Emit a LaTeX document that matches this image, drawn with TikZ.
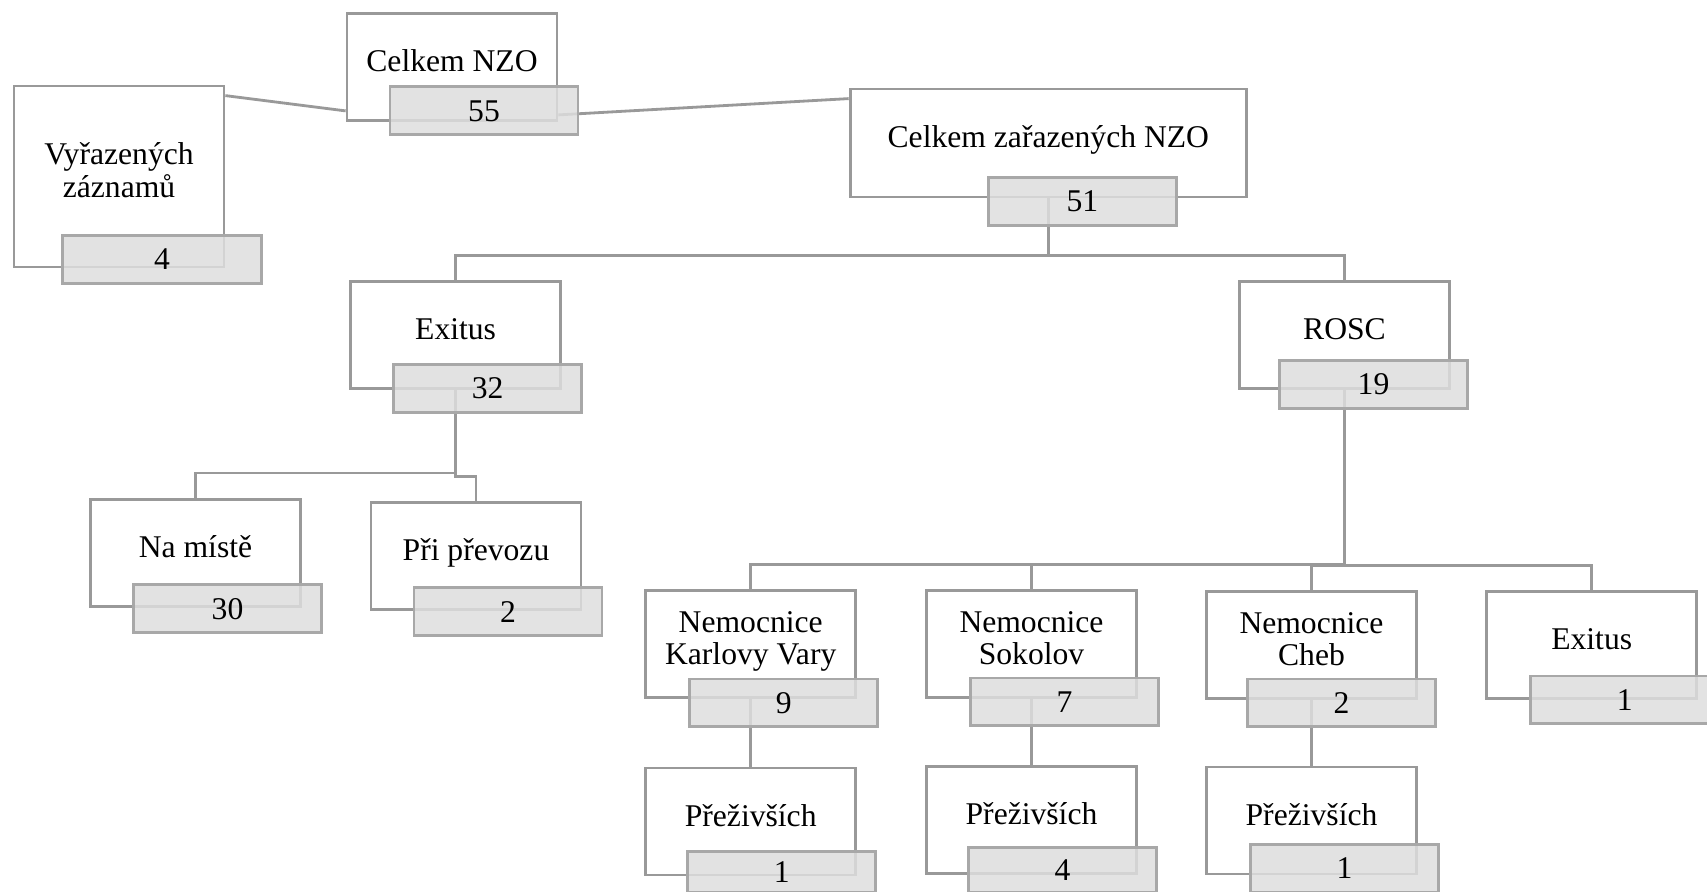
\documentclass[tikz,border=0pt]{standalone}
\usepackage{fontspec}
\setmainfont{Liberation Serif}
\usetikzlibrary{calc}
\definecolor{lineGray}{RGB}{153,153,153}
\definecolor{valueFill}{RGB}{222,222,222}
\definecolor{valueLine}{RGB}{168,168,168}
\pgfdeclarelayer{background}
\pgfsetlayers{background,main}
\newcommand{\boxlabel}[1]{\raisebox{0.04cm}[\height][\depth]{\begin{tabular}{@{}c@{}}#1\end{tabular}}}
\tikzset{
  mainbox/.style={draw=lineGray, line width=1.6pt, fill=white, inner sep=0pt,
    minimum width=4.2cm, minimum height=2.14cm, font=\fontsize{18}{18.6}\selectfont},
  valbox/.style={draw=valueLine, line width=1.6pt, fill=valueFill, fill opacity=0.85,
    text opacity=1, inner sep=0pt, minimum width=3.76cm, minimum height=0.96cm,
    font=\fontsize{18}{18.6}\selectfont},
  link/.style={draw=lineGray, line width=1.6pt}
}

\begin{document}
\begin{tikzpicture}[x=0.02cm, y=-0.02cm]
	\useasboundingbox (0,0) rectangle (1707,892);
	% top
	\node[mainbox] (nzo) at (452,67) {\boxlabel{Celkem NZO}};
	\node[valbox] (nzo-v) at ($(nzo.south)+(32,-11)$) {55};
	\node[mainbox, minimum height=3.62cm] (vyr) at (119,176.5) {\boxlabel{Vyřazených\\záznamů}};
	\node[valbox, minimum width=3.98cm] (vyr-v) at ($(vyr.south)+(43,-9)$) {4};
	\node[mainbox, minimum width=7.93cm, minimum height=2.16cm] (zar) at (1048.3,143) {\boxlabel{Celkem zařazených NZO}};
	\node[valbox] (zar-v) at ($(zar.south)+(34,3)$) {51};
	% second row
	\node[mainbox] (exl) at (455.6,335.3) {\boxlabel{Exitus}};
	\node[valbox] (exl-v) at ($(exl.south)+(32,-2)$) {32};
	\node[mainbox] (rosc) at (1344.5,335.3) {\boxlabel{ROSC}};
	\node[valbox] (rosc-v) at ($(rosc.south)+(29,-6)$) {19};
	% exitus
	\node[mainbox] (nam) at (195.5,552.8) {\boxlabel{Na místě}};
	\node[valbox] (nam-v) at ($(nam.south)+(32,1)$) {30};
	\node[mainbox] (pri) at (476,556) {\boxlabel{Při převozu}};
	\node[valbox] (pri-v) at ($(pri.south)+(32,1)$) {2};
	% rosc
	\node[mainbox] (kv) at (750.7,644) {\boxlabel{Nemocnice\\Karlovy Vary}};
	\node[valbox] (kv-v) at ($(kv.south)+(33,4)$) {9};
	\node[mainbox] (sok) at (1031.5,644) {\boxlabel{Nemocnice\\Sokolov}};
	\node[valbox] (sok-v) at ($(sok.south)+(33,3)$) {7};
	\node[mainbox] (cheb) at (1311.5,645) {\boxlabel{Nemocnice\\Cheb}};
	\node[valbox] (cheb-v) at ($(cheb.south)+(30,3)$) {2};
	\node[mainbox] (exr) at (1591.7,645) {\boxlabel{Exitus}};
	\node[valbox] (exr-v) at ($(exr.south)+(33,0)$) {1};
	% survivors
	\node[mainbox] (pkv) at (750.7,821.5) {\boxlabel{Přeživších}};
	\node[valbox, minimum height=0.82cm] (pkv-v) at ($(pkv.south)+(31,-4.5)$) {1};
	\node[mainbox] (psok) at (1031.5,819.7) {\boxlabel{Přeživších}};
	\node[valbox, minimum height=0.9cm] (psok-v) at ($(psok.south)+(31,-4.7)$) {4};
	\node[mainbox] (pcheb) at (1311.5,820.5) {\boxlabel{Přeživších}};
	\node[valbox] (pcheb-v) at ($(pcheb.south)+(33,-7)$) {1};
	\begin{pgfonlayer}{background}
		\draw[link] ($(vyr.north east)+(0,11)$) -- ($(nzo.south west)+(0,-11)$);
		\draw[link] ($(nzo.south east)+(0,-7)$) -- ($(zar.north west)+(0,11)$);
		\foreach \p/\c in {zar/exl, zar/rosc, exl/nam, exl/pri, rosc/kv, rosc/sok, rosc/cheb, rosc/exr}
			\draw[link] (\p.south) |- ($(\c.north)+(0,-25)$) -- (\c.north);
		\foreach \p/\c in {kv/pkv, sok/psok, cheb/pcheb}
			\draw[link] (\p.south) -- (\c.north);
	\end{pgfonlayer}
\end{tikzpicture}
\end{document}
